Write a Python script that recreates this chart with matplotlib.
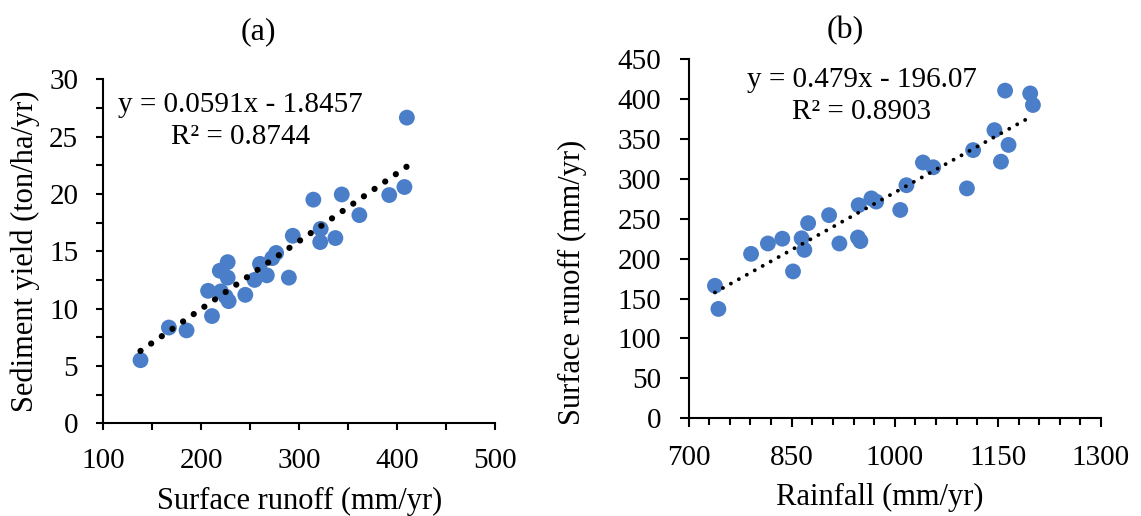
import numpy as np
import matplotlib.pyplot as plt
from matplotlib.ticker import MultipleLocator, FixedLocator

plt.rcParams['font.family'] = ['Liberation Serif', 'DejaVu Serif']

# (a) surface runoff vs sediment yield
runoff_a = [138, 167, 185, 211, 207, 219, 227, 227, 220, 225, 228, 245, 254.5, 260,
            267, 272.5, 276.5, 289.5, 293.5, 314.5, 322, 321.5, 337, 343.5, 361.5,
            392, 407.5, 410]
sediment_a = [5.5, 8.35, 8.1, 9.35, 11.55, 13.3, 14.05, 12.7, 11.5, 11.05, 10.65, 11.2,
              12.5, 13.9, 12.9, 14.4, 14.85, 12.7, 16.35, 19.5, 16.95, 15.8, 16.15,
              19.95, 18.15, 19.9, 20.6, 26.65]
slope_a, icpt_a, r2_a = 0.0591, -1.8457, 0.8744

# (b) rainfall vs surface runoff
rain_b = [738.5, 743.5, 791, 815.5, 836.5, 852, 864.5, 868.5, 874, 904.5, 919.5, 946.5,
          950, 947.5, 966, 973, 1008, 1017, 1041, 1056, 1105, 1114, 1145, 1154.5,
          1165.5, 1160.5, 1197, 1201]
runoff_b = [166, 137, 206, 219, 225, 184, 225.5, 211, 244.5, 254.5, 219, 226.5, 222,
            267, 275.5, 271.5, 261, 292, 320.5, 314.5, 288, 336, 361, 321.5, 342.5,
            410.5, 407, 392.5]
slope_b, icpt_b, r2_b = 0.479, -196.07, 0.8903

blue = '#4a7ec8'
W, H = 1141, 516
fig = plt.figure(figsize=(W / 100, H / 100), dpi=100)

ax1 = fig.add_axes([103.3 / W, 1 - 423.3 / H, 391.7 / W, 344.1 / H])
ax2 = fig.add_axes([688.5 / W, 1 - 418.3 / H, 412.5 / W, 359.2 / H])


def style(ax):
    for s in ['top', 'right']:
        ax.spines[s].set_visible(False)
    for s in ['left', 'bottom']:
        ax.spines[s].set_linewidth(1.5)
    ax.tick_params(which='both', direction='out', width=1.5, labelsize=21, pad=13)
    ax.tick_params(which='major', length=5)
    ax.tick_params(which='minor', length=5)


def trend(ax, x, m, b, lw, gap):
    xs = np.array([min(x), max(x)])
    ax.plot(xs, m * xs + b, color='black', lw=lw, linestyle=(0, (0.01, gap)),
            dash_capstyle='round', zorder=3)


# panel a
ax1.scatter(runoff_a, sediment_a, s=130, color=blue, edgecolors='none', zorder=2)
trend(ax1, runoff_a, slope_a, icpt_a, 4.5, 2.06)
ax1.set_xlim(100, 500)
ax1.set_ylim(0, 30)
ax1.xaxis.set_major_locator(MultipleLocator(100))
ax1.xaxis.set_minor_locator(MultipleLocator(50))
ax1.yaxis.set_major_locator(MultipleLocator(5))
ax1.yaxis.set_minor_locator(MultipleLocator(2.5))
style(ax1)
ax1.set_xlabel('Surface runoff (mm/yr)', fontsize=22, va='center')
ax1.xaxis.set_label_coords((300 - 103.3) / 391.7, (423.3 - 501) / 344.1)
ax1.set_ylabel('Sediment yield (ton/ha/yr)', fontsize=22, va='center')
ax1.yaxis.set_label_coords((25 - 103.3) / 391.7, (423.3 - 251) / 344.1)
ax1.text(0.351, 0.925, f'y = {slope_a}x - {abs(icpt_a)}', transform=ax1.transAxes,
         ha='center', va='center', fontsize=21)
ax1.text(0.351, 0.833, f'R² = {r2_a}', transform=ax1.transAxes,
         ha='center', va='center', fontsize=21)

# panel b
ax2.scatter(rain_b, runoff_b, s=130, color=blue, edgecolors='none', zorder=2)
trend(ax2, rain_b, slope_b, icpt_b, 2.8, 2.33)
ax2.set_xlim(700, 1300)
ax2.set_ylim(0, 450)
ax2.xaxis.set_major_locator(FixedLocator(np.arange(700, 1301, 150)))
ax2.xaxis.set_minor_locator(FixedLocator(np.arange(700, 1301, 30)))
ax2.yaxis.set_major_locator(MultipleLocator(50))
style(ax2)
ax2.tick_params(which='major', length=6.5)
ax2.tick_params(which='minor', length=5)
ax2.set_xlabel('Rainfall (mm/yr)', fontsize=22, va='center')
ax2.xaxis.set_label_coords((880 - 688.5) / 412.5, (418.3 - 497) / 359.2)
ax2.set_ylabel('Surface runoff (mm/yr)', fontsize=22, va='center')
ax2.yaxis.set_label_coords((572 - 688.5) / 412.5, (418.3 - 282) / 359.2)
ax2.text(0.42, 0.942, f'y = {slope_b}x - {abs(icpt_b)}', transform=ax2.transAxes,
         ha='center', va='center', fontsize=21)
ax2.text(0.42, 0.854, f'R² = {r2_b}', transform=ax2.transAxes,
         ha='center', va='center', fontsize=21)

fig.text(258 / W, 1 - 32 / H, '(a)', ha='center', va='center', fontsize=23)
fig.text(845 / W, 1 - 31 / H, '(b)', ha='center', va='center', fontsize=23)

fig.savefig('out.png', dpi=100)
